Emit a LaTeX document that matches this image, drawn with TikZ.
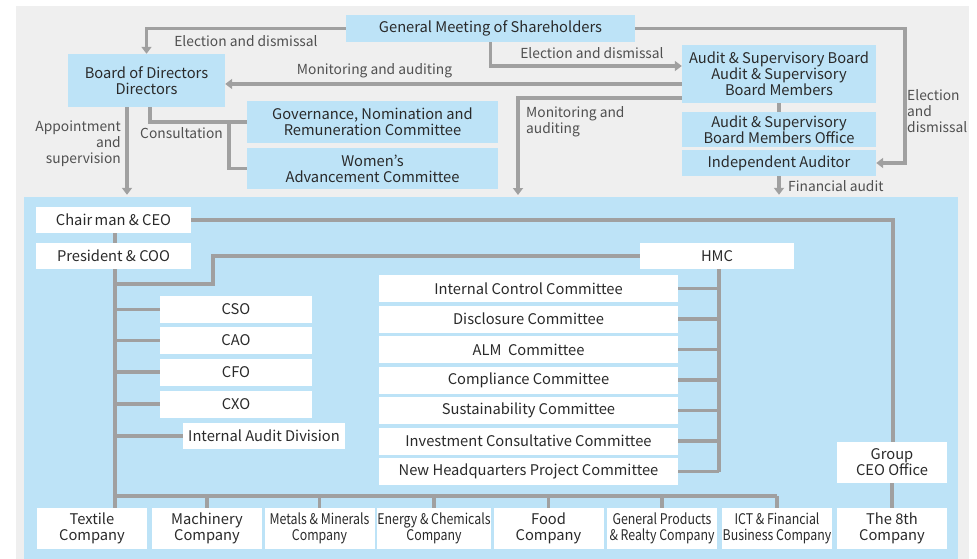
\documentclass[tikz,border=0pt]{standalone}
\usepackage{fontspec}
\setmainfont{Noto Sans CJK JP}
\usetikzlibrary{arrows.meta}
\definecolor{bggray}{HTML}{EFEFEF}
\definecolor{lblue}{HTML}{BDE3F7}
\definecolor{lgray}{HTML}{A0A0A0}
\definecolor{txt}{HTML}{2A2A2A}
\definecolor{lbl}{HTML}{505050}
\newcommand{\cnd}[1]{\scalebox{0.84}[1]{#1}}
\begin{document}
\begin{tikzpicture}[x=1pt,y=-1pt,
  bluebox/.style={fill=lblue, draw=none, inner sep=0pt, align=center, text=txt, font=\fontsize{14.7}{16}\selectfont},
  whitebox/.style={fill=white, draw=none, inner sep=0pt, align=center, text=txt, font=\fontsize{14.7}{16}\selectfont},
  conn/.style={draw=lgray, line width=3.5pt},
  arr/.style={conn, -{Triangle[width=10pt,length=7pt]}},
  lab/.style={text=lbl, inner sep=0pt, font=\fontsize{13.8}{16}\selectfont}]
\useasboundingbox (0,0) rectangle (977,559);
\fill[white] (0,0) rectangle (977,559);
\fill[bggray] (16,6) rectangle (969,559);
\node[fill=lblue, inner sep=0pt, minimum width=934pt, minimum height=362pt] (grp) at (491,378) {};

% top nodes
\node[bluebox, minimum width=289pt, minimum height=27pt] (gm) at (490.5,28.5) {General Meeting of Shareholders};
\node[bluebox, minimum width=157pt, minimum height=53pt] (bod) at (146.5,80.5) {Board of Directors\\Directors};
\node[bluebox, minimum width=251pt, minimum height=42pt] (gov) at (372.5,122) {Governance, Nomination and\\Remuneration Committee};
\node[bluebox, minimum width=251pt, minimum height=41pt] (wom) at (372.5,168.5) {Women’s\\Advancement Committee};
\node[bluebox, minimum width=194pt, minimum height=58pt] (asb) at (779,74) {Audit \& Supervisory Board\\Audit \& Supervisory\\Board Members};
\node[bluebox, minimum width=194pt, minimum height=35pt] (aso) at (779,129.5) {Audit \& Supervisory\\Board Members Office};
\node[bluebox, minimum width=194pt, minimum height=26pt] (ia) at (779,163) {Independent Auditor};

\coordinate (mon) at (518,195);
\coordinate (cj) at (229,0);

% top connectors
\draw[arr] (gm.west) -| (bod.north);
\draw[arr] (gm.south) |- ([yshift=8pt]asb.west);
\draw[arr] (gm.east) -| ([xshift=29pt]ia.east) -- (ia.east);
\draw[arr] ([yshift=-10pt]asb.west) -- ([yshift=-10pt]asb.west -| bod.east);
\draw[arr] ([yshift=-24pt]asb.west) -| (mon);
\draw[conn] (asb.south) -- (aso.north);
\draw[arr] (ia.south) -- ([yshift=2pt]ia.south |- grp.north);
\draw[arr] ([xshift=-19.5pt]bod.south) -- ([xshift=-19.5pt,yshift=2pt]bod.south |- grp.north);
\draw[conn] ([xshift=3.5pt]bod.south) |- (gov.west);
\draw[conn] (gov.west -| cj) |- (wom.west);

% labels
\node[lab] (l1) at (246,41.5) {Election and dismissal};
\node[lab] (l2) at (592,53.5) {Election and dismissal};
\node[lab, anchor=west, align=left] (l3) at (907,111.5) {Election\\and\\dismissal};
\node[lab] (l4) at (374.5,70.5) {Monitoring and auditing};
\node[lab, anchor=west, align=left] (l5) at (526,122) {Monitoring and\\auditing};
\node[lab, anchor=west] (l6) at (788,186.5) {Financial audit};
\node[lab, anchor=east, align=right] (l7) at (121,143.5) {Appointment\\and\\supervision};
\node[lab] (l8) at (181.5,133.5) {Consultation};

% inside group
\node[whitebox, minimum width=155pt, minimum height=26pt] (ceo) at (113.5,220) {Chair\,man \& CEO};
\node[whitebox, minimum width=155pt, minimum height=26pt] (coo) at (113.5,256) {President \& COO};
\node[whitebox, minimum width=154pt, minimum height=26pt] (hmc) at (717,256) {HMC};
\node[whitebox, minimum width=152pt, minimum height=27pt] (cso) at (236,309.5) {CSO};
\node[whitebox, minimum width=152pt, minimum height=27pt] (cao) at (236,340.5) {CAO};
\node[whitebox, minimum width=152pt, minimum height=27pt] (cfo) at (236,372) {CFO};
\node[whitebox, minimum width=152pt, minimum height=27pt] (cxo) at (236,404) {CXO};
\node[whitebox, minimum width=162pt, minimum height=26pt] (iad) at (264,436) {Internal Audit Division};

\foreach \n/\t [count=\i from 0] in {c1/Internal Control Committee, c2/Disclosure Committee, c3/ALM\ \ Committee, c4/Compliance Committee, c5/Sustainability Committee, c6/Investment Consultative Committee, c7/New Headquarters Project Committee}
  \node[whitebox, minimum width=299pt, minimum height=27pt] (\n) at (528.5,288.5+30.5*\i) {\t};

\node[whitebox, minimum width=110pt, minimum height=41pt] (gceo) at (892,462.5) {Group\\CEO Office};
\node[whitebox, minimum width=110pt, minimum height=41pt] (tex) at (92,528.5) {Textile\\Company};
\node[whitebox, minimum width=110pt, minimum height=41pt] (mac) at (207,528.5) {Machinery\\Company};
\node[whitebox, minimum width=110pt, minimum height=41pt] (met) at (319.5,528.5) {\cnd{Metals \& Minerals}\\\cnd{Company}};
\node[whitebox, minimum width=110pt, minimum height=41pt] (ene) at (434,528.5) {\cnd{Energy \& Chemicals}\\\cnd{Company}};
\node[whitebox, minimum width=110pt, minimum height=41pt] (food) at (548.5,528.5) {Food\\Company};
\node[whitebox, minimum width=110pt, minimum height=41pt] (gen) at (662,528.5) {\cnd{General Products}\\\cnd{\& Realty Company}};
\node[whitebox, minimum width=110pt, minimum height=41pt] (ict) at (777,528.5) {\cnd{ICT \& Financial}\\\cnd{Business Company}};
\node[whitebox, minimum width=110pt, minimum height=41pt] (th8) at (892,528.5) {The 8th\\Company};

\coordinate (tr) at (115,0);
\coordinate (hk) at (213,284);
\coordinate (hv) at (719,0);
\coordinate (busL) at (115,496);
\coordinate (busR) at (777,496);

\draw[conn] (ceo.south -| tr) -- (coo.north -| tr);
\draw[conn] (coo.south -| tr) -- (busL) -- (busR);
\draw[conn] (ceo.east) -| (gceo.north -| 893,0);
\draw[conn] (gceo.south) -- (th8.north);
\draw[conn] (hk -| tr) -- (hk) |- (hmc.west);
\foreach \n in {cso,cao,cfo,cxo,iad} \draw[conn] (\n.west -| tr) -- (\n.west);
\draw[conn] (hmc.south -| hv) -- (c7.east -| hv);
\foreach \n in {c1,c2,c3,c4,c5,c6,c7} \draw[conn] (\n.east) -- (\n.east -| hv);
\draw[conn] (busL) -- (tex.north -| tr);
\foreach \n in {mac,met,ene,food,gen,ict} \draw[conn] (\n.north |- busL) -- (\n.north);
\end{tikzpicture}
\end{document}
